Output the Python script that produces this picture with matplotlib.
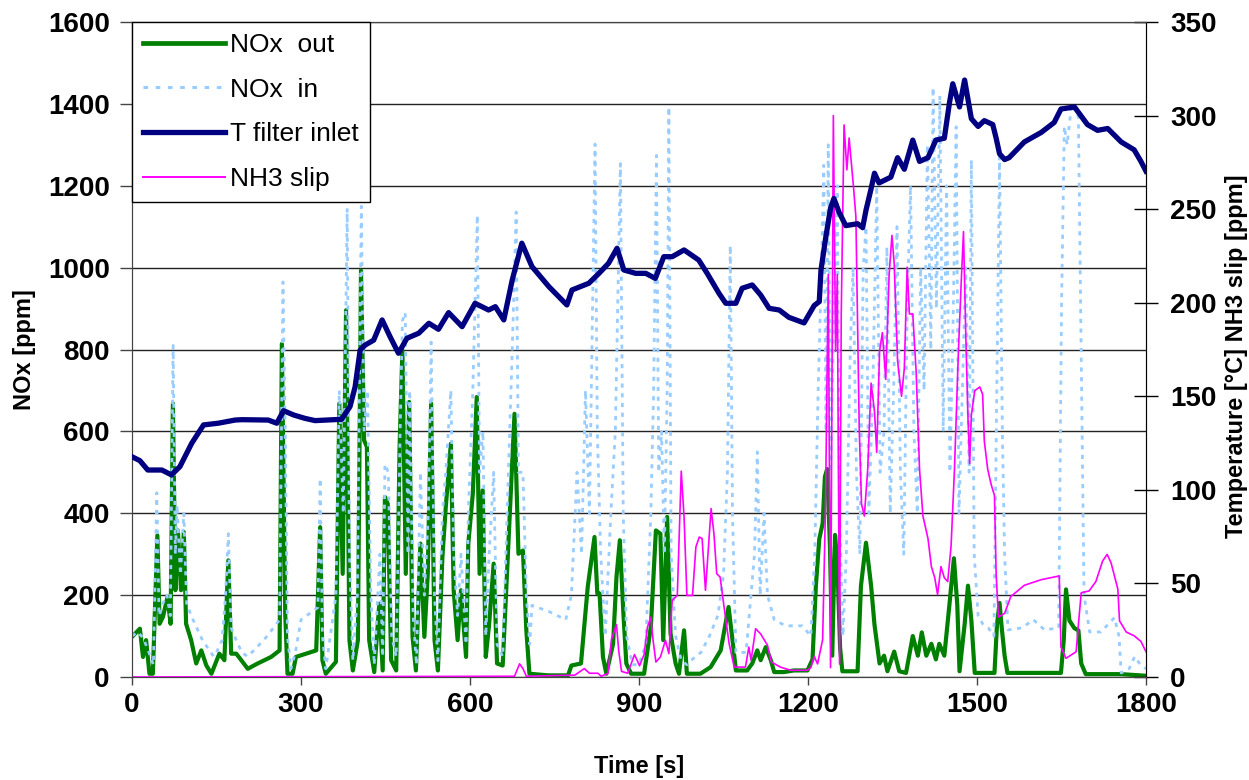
import matplotlib
matplotlib.use("Agg")
import matplotlib.pyplot as plt
from matplotlib.lines import Line2D

plt.rcParams['font.family'] = ['Liberation Sans', 'DejaVu Sans']
plt.rcParams['font.weight'] = 'bold'

# ---------------- data ----------------
# NOx out [ppm] (left axis)
t_nox_out = [0, 14, 19.5, 25, 31, 37, 45, 49, 55, 63, 68.5, 72.6, 77, 81.5, 87, 92, 96, 105, 114, 123,
             132, 141, 155, 164, 171, 176, 185, 194, 205.5, 223, 247, 262, 266, 272, 276, 285, 291, 300,
             327, 334, 338, 344, 362, 368, 374, 380, 386, 392, 401, 406.5, 412, 417, 421, 430, 439, 445,
             449, 454, 460, 469, 475, 480, 486, 492, 498, 504, 512, 519, 525, 531, 537, 543, 551, 557,
             566, 571, 578, 584, 593, 597, 605, 612, 617, 622.5, 628, 634, 642, 648, 658, 667, 679, 686,
             694, 700, 705.5, 738, 774, 780, 797, 809, 821, 826, 830, 836, 842, 854, 860, 866, 872, 877.5,
             886, 909, 921, 930, 938, 943, 950, 956, 965, 971, 980, 985, 1009, 1027, 1045, 1059, 1066, 1072,
             1092, 1101, 1110, 1116, 1125, 1134, 1140, 1157, 1175, 1199, 1208, 1214, 1220, 1226, 1230, 1234,
             1239, 1243, 1248, 1252, 1257, 1261, 1288, 1294, 1303, 1312, 1318, 1327, 1335, 1341, 1353, 1362,
             1374, 1386, 1395, 1402, 1410, 1419, 1427, 1433, 1442, 1451, 1459, 1465, 1469, 1478, 1484, 1490,
             1496, 1531, 1535.5, 1540, 1544, 1549, 1554, 1649, 1654, 1658, 1664, 1673, 1680, 1685, 1693,
             1756, 1800]
nox_out = [98, 118, 49, 90, 8, 8, 346, 130, 147, 195, 130, 668, 212, 358, 212, 354, 130, 90, 33, 65,
           28, 8, 57, 41, 285, 57, 57, 41, 20, 33, 49, 65, 814, 155, 8, 8, 49, 53,
           65, 366, 41, 8, 37, 668, 252, 896, 90, 16, 90, 993, 578, 562, 90, 12, 179, 16,
           440, 423, 41, 16, 562, 798, 252, 672, 98, 16, 326, 98, 252, 668, 90, 16, 293, 415,
           570, 212, 90, 212, 49, 326, 448, 684, 252, 456, 49, 130, 277, 33, 28, 293, 643, 301,
           309, 114, 8, 4, 4, 28, 33, 220, 342, 204, 204, 49, 8, 81, 244, 334, 163, 33,
           8, 8, 122, 358, 350, 90, 391, 106, 33, 8, 114, 8, 8, 24, 65, 171, 90, 16,
           16, 33, 65, 41, 73, 41, 12, 12, 16, 16, 43, 223, 337, 375, 489, 508,
           318, 52, 347, 280, 71, 14, 14, 223, 328, 223, 128, 33, 52, 14, 62, 14,
           10, 100, 52, 109, 52, 81, 43, 81, 52, 176, 290, 176, 14, 128, 223, 138,
           10, 10, 128, 181, 119, 52, 10, 10, 90, 214, 138, 119, 114, 33, 7,
           7, 3]

# NOx in [ppm] (left axis)
t_nox_in = [0, 10, 20, 30, 38, 44, 48, 55, 62, 68, 73, 77, 80, 86, 92, 97, 105, 115, 125, 135, 145, 150,
            160, 166, 171, 176, 185, 195, 205, 220, 240, 262, 266, 268, 272, 276, 282, 290, 300, 320, 330,
            334, 338, 344, 352, 362, 368, 375, 382, 386, 392, 400, 407, 412, 418, 424, 430, 440, 445, 449,
            455, 461, 469, 476, 480, 485, 490, 493, 499, 505, 512, 519, 526, 531, 537, 543, 551, 557, 566,
            571, 578, 584, 593, 597, 605, 613, 617, 623, 628, 634, 642, 648, 658, 667, 675, 682, 686, 694,
            700, 706, 710, 740, 770, 780, 790, 798, 805, 812, 822, 826, 832, 840, 850, 858, 867, 872, 878,
            888, 900, 912, 921, 926, 931, 935, 940, 945, 950, 953, 957, 965, 975, 985, 1000, 1010, 1025,
            1040, 1050, 1057, 1062, 1066, 1072, 1090, 1105, 1110, 1115, 1122, 1128, 1140, 1160, 1190, 1205,
            1212, 1218, 1224, 1228, 1232, 1236, 1240, 1246, 1252, 1256, 1262, 1268, 1275, 1280, 1286, 1292,
            1298, 1303, 1308, 1315, 1322, 1328, 1335, 1340, 1346, 1352, 1358, 1364, 1370, 1376, 1382, 1388,
            1394, 1400, 1406, 1412, 1418, 1422, 1428, 1434, 1440, 1446, 1452, 1458, 1463, 1468, 1474, 1480,
            1486, 1490, 1495, 1502, 1510, 1520, 1530, 1536, 1540, 1545, 1549, 1555, 1580, 1600, 1620, 1645,
            1650, 1655, 1660, 1668, 1675, 1680, 1684, 1690, 1700, 1720, 1744, 1752, 1756, 1770, 1780, 1790,
            1800]
nox_in = [100, 110, 95, 60, 30, 450, 150, 180, 200, 150, 810, 300, 420, 250, 400, 180, 150, 120, 90, 70, 50, 60,
          90, 200, 350, 120, 90, 60, 50, 70, 100, 140, 700, 965, 600, 100, 20, 60, 140, 160, 170,
          485, 100, 20, 100, 200, 700, 400, 1145, 300, 40, 200, 1150, 600, 700, 200, 30, 300, 50, 520,
          500, 100, 50, 600, 870, 890, 300, 700, 150, 30, 500, 200, 400, 818, 200, 40, 400, 500, 700,
          300, 150, 300, 80, 400, 700, 1128, 500, 600, 100, 300, 500, 80, 50, 450, 800, 1136, 500, 500,
          200, 80, 175, 160, 140, 200, 500, 300, 700, 400, 1302, 600, 300, 100, 400, 600, 1254, 400, 100,
          30, 30, 80, 400, 700, 1274, 500, 600, 300, 700, 1392, 300, 100, 40, 30, 50, 60, 100,
          150, 250, 500, 1054, 400, 60, 60, 300, 550, 200, 400, 200, 140, 125, 125, 100,
          300, 700, 1000, 1250, 600, 1300, 500, 900, 1200, 400, 100, 300, 800, 1000, 500, 300,
          1000, 1100, 400, 700, 1200, 500, 600, 1050, 400, 700, 1100, 500, 300, 900, 1200, 600,
          400, 1000, 700, 1300, 800, 1440, 900, 1420, 600, 1200, 500, 900, 1344, 400, 700, 1000,
          500, 1263, 300, 150, 130, 120, 100, 800, 1271, 600, 300, 115, 120, 140, 115, 120,
          900, 1345, 1300, 1400, 1380, 1368, 900, 200, 110, 110, 145, 100, 10, 20, 50, 30,
          20]

# T filter inlet [degC] (right axis)
t_temp = [0, 14, 28, 53, 70, 85, 106, 127, 153, 183, 195, 242, 257, 269, 287, 307, 325, 372, 387, 396,
          405, 414, 429, 444, 458, 473, 488, 509, 527, 544, 562, 586, 609, 633, 645, 660, 675, 692, 710,
          740, 772, 781, 811, 829, 846, 861, 873, 894, 912, 929, 944, 959, 980, 1006, 1021, 1042, 1054,
          1072, 1083, 1101, 1116, 1131, 1149, 1166, 1193, 1211, 1220, 1223, 1231, 1240, 1246, 1255, 1267,
          1288, 1297, 1303, 1312, 1318, 1326, 1347, 1359, 1371, 1386, 1398, 1413, 1427, 1442, 1451, 1457,
          1469, 1478, 1490, 1502, 1513, 1528, 1534, 1540, 1549, 1557, 1584, 1614, 1637, 1649, 1673, 1696,
          1714, 1732, 1756, 1779, 1791, 1800]
temp = [117.7, 115.6, 110.6, 110.6, 108, 112.4, 124.9, 134.7, 135.6, 137.3, 137.5, 137.3, 135.6, 142.3, 140,
        138.2, 137, 137.7, 144.5, 155, 174.7, 177.4, 180, 190.8, 181.9, 173, 181, 183.7, 189, 185.8, 194.7,
        187.2, 199.7, 196.1, 197.9, 190.8, 212.2, 231.8, 219.3, 208.6, 198.8, 206.8, 210.4, 215.7, 221.1,
        229.1, 217.5, 215.7, 215.7, 213, 224.6, 224.6, 228.2, 222.8, 215.7, 205, 199.7, 199.7, 207.7, 209.5,
        204.1, 197, 196.1, 192.2, 189.2, 198.5, 200.6, 217.3, 233.9, 250.5, 255.7, 248.4, 241.2, 242.2,
        240.1, 249.5, 260.9, 269.2, 264, 267.1, 277.5, 271.3, 286.9, 275.5, 277.5, 286.9, 287.9, 306.6, 317,
        304.6, 319, 298.3, 294.2, 297.3, 295.2, 287.9, 279.6, 276.5, 277.5, 285.9, 291, 296.3, 303.5, 304.6,
        295.2, 292.1, 293.1, 285.9, 281.7, 275.5, 270.3]

# NH3 slip [ppm] (right axis)
t_nh3 = [0, 679, 688, 694, 700, 786, 803, 812, 827, 833, 845, 851, 860, 864, 869, 880, 892, 901, 909,
         915, 921, 925, 930, 938, 947, 953, 959, 968, 975, 980, 985, 995, 1001, 1007, 1012, 1018, 1024,
         1028, 1033, 1038, 1044, 1051, 1060, 1069, 1089, 1095, 1099, 1107, 1116, 1128, 1135, 1151, 1169,
         1199, 1205, 1211, 1217, 1226, 1231, 1236, 1240, 1245, 1249, 1252, 1256, 1259, 1264, 1269, 1273,
         1281, 1285, 1291, 1295, 1300, 1306, 1312, 1318, 1322, 1327, 1332, 1338, 1344, 1349, 1353, 1359,
         1366, 1371, 1376, 1380, 1386, 1392, 1398, 1404, 1413, 1419, 1425, 1430, 1436, 1442, 1448, 1454,
         1460, 1467, 1472, 1476, 1480, 1484, 1487, 1490, 1496, 1505, 1510, 1513, 1519, 1525, 1531, 1534,
         1538, 1549, 1560, 1584, 1614, 1646, 1649, 1658, 1676, 1680, 1685, 1699, 1711, 1723, 1731, 1738,
         1750, 1753, 1765, 1779, 1791, 1800]
nh3 = [0, 0.4, 7, 4.5, 0.4, 1, 4.5, 2, 2, 0.4, 2, 20, 28, 14, 3, 2, 12, 6, 12,
       26.7, 32, 19.6, 8, 10.7, 19.6, 12.5, 41, 43.6, 110, 85.5, 43.6, 43.6, 69.5, 74.8, 74, 46.3, 73,
       90, 76.6, 55.2, 53.4, 37.4, 17.8, 5.3, 5.3, 16, 8.9, 25.8, 23, 17, 8, 5.3, 3.6,
       3.6, 5, 11, 7, 20, 90, 215, 5, 300, 174, 215, 7, 194, 295, 271, 288,
       261, 246, 132, 92.5, 86, 111, 157, 142, 120, 174, 184, 159, 215, 236, 221, 169,
       150, 165, 219, 194, 194, 163, 111, 86, 74, 59, 53, 44, 59, 53, 51, 70,
       111, 174, 211, 238, 184, 138, 114, 140, 153, 155, 151, 126, 111, 103, 97, 55,
       32, 34, 43, 49, 52, 54, 16, 10, 13.5, 28, 45, 46, 51, 62, 65.5, 61,
       47, 30, 24, 22, 19, 13.5]

x_ticks = [0, 300, 600, 900, 1200, 1500, 1800]
y_ticks_left = [0, 200, 400, 600, 800, 1000, 1200, 1400, 1600]
y_ticks_right = [0, 50, 100, 150, 200, 250, 300, 350]

# ---------------- figure ----------------
fig = plt.figure(figsize=(12.49, 7.80), dpi=100)
ax = fig.add_axes([132 / 1249, 1 - 677 / 780, (1146 - 132) / 1249, (677 - 22) / 780])
ax2 = ax.twinx()

c_out, c_in, c_t, c_nh3 = '#008000', '#99ccff', '#000080', '#ff00ff'

ax.plot(t_nox_out, nox_out, color=c_out, lw=3.0, zorder=2)
ax.plot(t_nox_in, nox_in, color=c_in, lw=2.0, ls=(0, (1.5, 2.0)), zorder=3)
ax2.plot(t_nh3, nh3, color=c_nh3, lw=1.2, zorder=2)
ax2.plot(t_temp, temp, color=c_t, lw=3.8, zorder=3)

ax.set_xlim(0, 1800)
ax.set_ylim(0, 1600)
ax2.set_ylim(0, 350)
ax.set_xticks(x_ticks)
ax.set_yticks(y_ticks_left)
ax2.set_yticks(y_ticks_right)

ax.grid(axis='y', color='#222222', lw=1.0)
ax.set_axisbelow(True)

for s in ax.spines.values():
    s.set_color('#444444')
for s in ax2.spines.values():
    s.set_color('#444444')
ax2.spines['right'].set_color('#000000')

ax.tick_params(axis='y', direction='out', length=9, width=1, labelsize=20, pad=7, color='#444444')
ax.tick_params(axis='x', direction='out', length=6, width=1, labelsize=20, pad=5, color='#444444')
ax2.tick_params(axis='y', direction='inout', length=17, width=1, labelsize=20, pad=9, color='#000000')

fig.text(25 / 1249, 1 - 350 / 780, 'NOx [ppm]', rotation=90, ha='center', va='center', fontsize=17)
fig.text(639 / 1249, 1 - 766 / 780, 'Time [s]', ha='center', va='center', fontsize=17)
fig.text(1237 / 1249, 1 - 356 / 780, 'Temperature [°C] NH3 slip [ppm]', rotation=90,
         ha='center', va='center', fontsize=17)

handles = [Line2D([], [], color=c_out, lw=3.4),
           Line2D([], [], color=c_in, lw=2.2, ls=(0, (1.5, 2.5))),
           Line2D([], [], color=c_t, lw=3.8),
           Line2D([], [], color=c_nh3, lw=1.4)]
labels = ['NOx  out', 'NOx  in', 'T filter inlet', 'NH3 slip']
leg = ax2.legend(handles, labels, loc='upper left', bbox_to_anchor=(0.0, 1.0), borderaxespad=0.0,
                 frameon=True, fancybox=False, edgecolor='#000000', framealpha=1.0,
                 prop={'weight': 'normal', 'size': 19}, handlelength=3.1, handletextpad=0.2,
                 labelspacing=0.78, borderpad=0.42)
leg.get_frame().set_linewidth(1.0)

fig.savefig('out.png', dpi=100)
